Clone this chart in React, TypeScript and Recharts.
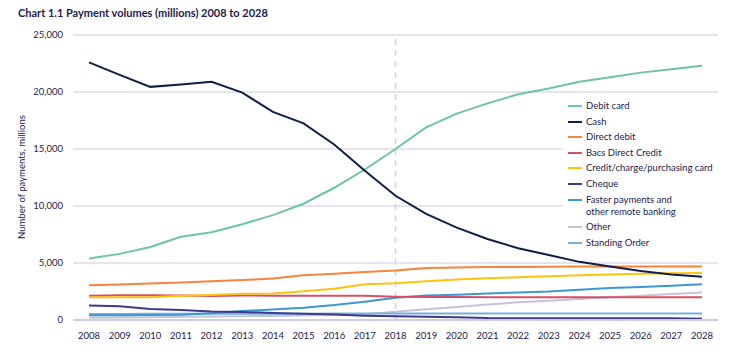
import React from "react";
import { LineChart, Line, XAxis, YAxis, CartesianGrid, ReferenceLine } from "recharts";

const years = ["2008","2009","2010","2011","2012","2013","2014","2015","2016","2017","2018","2019","2020","2021","2022","2023","2024","2025","2026","2027","2028"];
const debitCard = [5400,5800,6400,7300,7700,8400,9200,10200,11600,13200,15000,16900,18100,19000,19800,20300,20900,21300,21700,22000,22300];
const cash = [22600,21500,20450,20650,20900,19950,18250,17250,15400,13100,10900,9300,8100,7100,6300,5700,5100,4700,4300,4000,3800];
const directDebit = [3050,3120,3200,3280,3400,3500,3640,3920,4050,4200,4350,4560,4600,4650,4660,4680,4700,4700,4700,4700,4700];
const bacs = [2130,2180,2180,2160,2100,2150,2130,2120,2120,2120,2050,2020,2010,2000,2000,2000,2000,2000,2000,2000,2000];
const creditCard = [2000,2000,2000,2120,2200,2300,2320,2530,2740,3140,3230,3400,3550,3660,3750,3840,3920,4000,4050,4100,4130];
const cheque = [1280,1200,960,880,740,700,620,550,480,380,330,290,240,170,160,160,160,160,160,160,110];
const faster = [420,420,430,450,600,780,930,1080,1310,1600,1950,2150,2220,2330,2420,2500,2650,2800,2900,3000,3140];
const other = [200,220,250,280,300,330,360,400,450,500,730,950,1150,1350,1550,1680,1850,2000,2120,2270,2420];
const standingOrder = [520,530,540,540,550,550,550,550,560,560,570,570,570,570,570,570,570,570,570,570,570];
const yTicks = [0, 5000, 10000, 15000, 20000, 25000];

const series = [
  { key: "debitCard", name: "Debit card", color: "#6cc5a3", values: debitCard },
  { key: "cash", name: "Cash", color: "#0f1f47", values: cash },
  { key: "directDebit", name: "Direct debit", color: "#f5843d", values: directDebit },
  { key: "bacs", name: "Bacs Direct Credit", color: "#d6506a", values: bacs },
  { key: "creditCard", name: "Credit/charge/purchasing card", color: "#ffc20f", values: creditCard },
  { key: "cheque", name: "Cheque", color: "#3f3a8f", values: cheque },
  { key: "faster", name: "Faster payments and\nother remote banking", color: "#3c98d3", values: faster },
  { key: "other", name: "Other", color: "#c5c3d8", values: other },
  { key: "standingOrder", name: "Standing Order", color: "#7aaedc", values: standingOrder },
];

const drawOrder = ["other", "standingOrder", "faster", "cheque", "bacs", "creditCard", "directDebit", "debitCard", "cash"];

const data = years.map((y, i) => {
  const row: Record<string, number | string> = { year: y };
  series.forEach((s) => { row[s.key] = s.values[i]; });
  return row;
});

const FONT = "Lato, 'Open Sans', sans-serif";
const TEXT = "#1c2150";

const XTick = (props: any) => {
  const { x, y, payload } = props;
  return (
    <text x={x} y={y + 19} textAnchor="middle" fontFamily={FONT} fontSize={9.5} fill={TEXT}>
      {payload.value}
    </text>
  );
};

const LegendBox = () => (
  <div style={{ position: "absolute", left: 562, top: 96, background: "#fff", width: 185, paddingTop: 4, paddingBottom: 4, zIndex: 2 }}>
    {series.map((s) => {
      const lines = s.name.split("\n");
      return (
        <div key={s.key} style={{ display: "flex", alignItems: "flex-start", fontFamily: FONT, fontSize: 9.5, color: TEXT, lineHeight: "12px", marginBottom: 3.6 }}>
          <div style={{ width: 14, height: 2, background: s.color, marginTop: 5, marginLeft: 6, marginRight: 4 }} />
          <div>{lines.map((l, i) => <div key={i}>{l}</div>)}</div>
        </div>
      );
    })}
  </div>
);

export default function App() {
  return (
    <div style={{ position: "absolute", left: 0, top: 0, width: 747, height: 359, background: "#fff" }}>
      <div style={{ position: "absolute", left: 18, top: 6, fontFamily: FONT, fontWeight: 700, fontSize: 11, color: TEXT, whiteSpace: "nowrap" }}>
        Chart 1.1 Payment volumes (millions) 2008 to 2028
      </div>
      <div style={{ position: "absolute", left: 21, top: 177, transform: "translate(-50%, -50%) rotate(-90deg)", fontFamily: FONT, fontSize: 9.5, color: TEXT, whiteSpace: "nowrap" }}>
        Number of payments, millions
      </div>
      <LineChart width={747} height={359} data={data} margin={{ top: 35, right: 29, bottom: 0, left: 0 }}>
        <CartesianGrid horizontal={true} vertical={false} stroke="#cac8de" strokeWidth={1} />
        <XAxis dataKey="year" type="category" padding={{ left: 16, right: 16 }} height={39} tickSize={0} tickMargin={0}
          axisLine={{ stroke: "#cfcde0", strokeWidth: 2 }} tick={<XTick />} interval={0} />
        <YAxis type="number" domain={[0, 25000]} ticks={yTicks} width={73} tickSize={0} tickMargin={10} axisLine={false}
          tickFormatter={(v: number) => v.toLocaleString("en-GB")} tick={{ fontFamily: FONT, fontSize: 9.5, fill: TEXT }} />
        <ReferenceLine x="2018" stroke="#d3d3e3" strokeWidth={1.5} strokeDasharray="6 5" />
        {drawOrder.map((k) => {
          const s = series.find((x) => x.key === k)!;
          return <Line key={k} type="linear" dataKey={k} name={s.name} stroke={s.color} strokeWidth={2} dot={false} isAnimationActive={false} />;
        })}
      </LineChart>
      <LegendBox />
    </div>
  );
}
